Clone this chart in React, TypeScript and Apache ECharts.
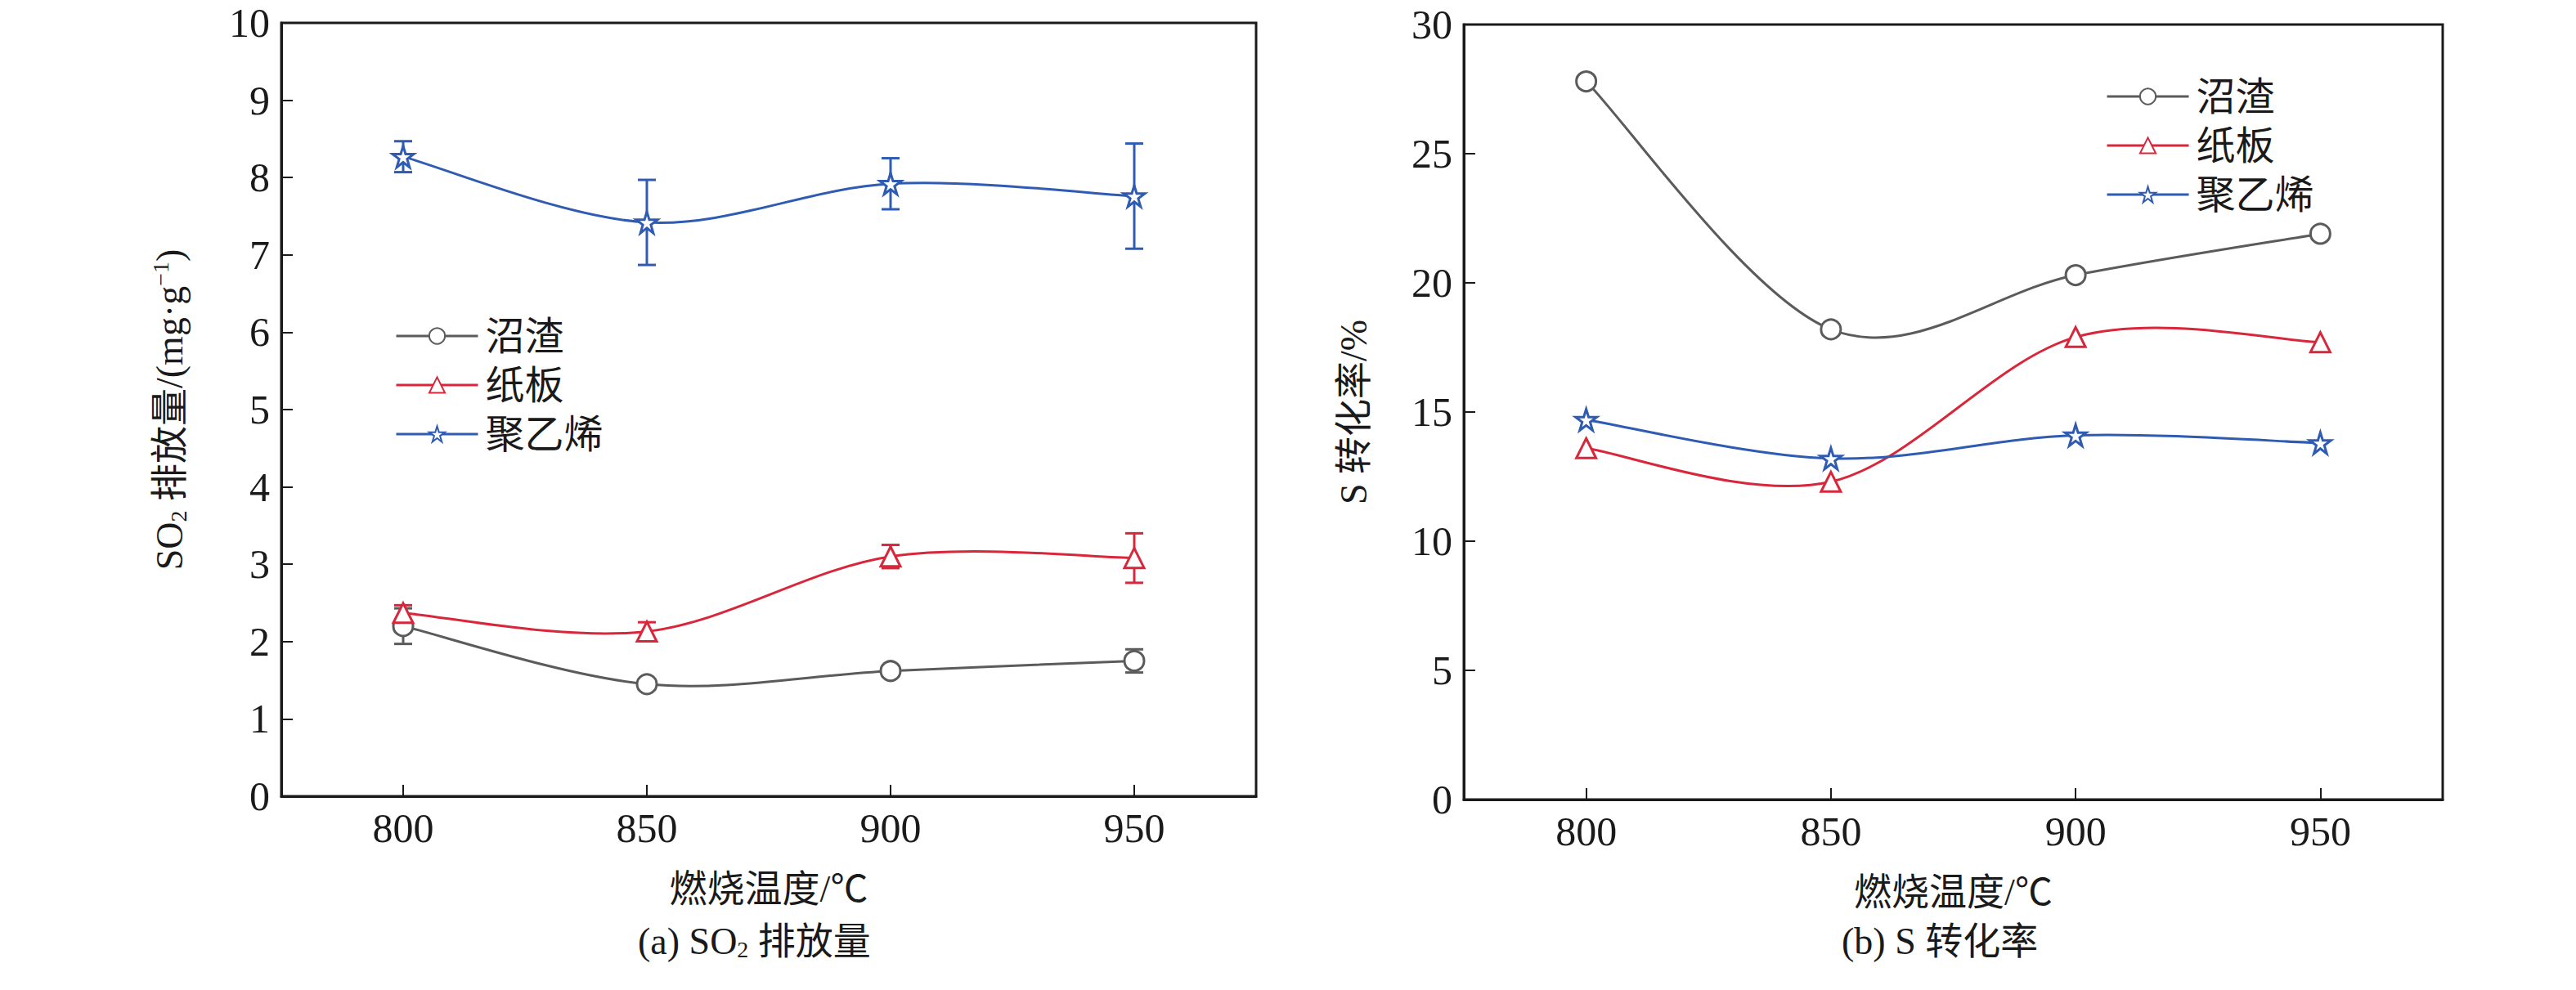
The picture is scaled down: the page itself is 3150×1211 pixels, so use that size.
import React, { useEffect, useRef } from 'react';
import * as echarts from 'echarts';

const temps = [800, 850, 900, 950];
const seriesNames = ['沼渣', '纸板', '聚乙烯'];
const colors = ['#5b5b5b', '#d8263b', '#2f5cb2'];

// (a) SO2 排放量
const so2Biogas = [2.2, 1.45, 1.62, 1.75];
const so2BiogasErr = [0.23, 0.05, 0.05, 0.15];
const so2Paper = [2.37, 2.13, 3.1, 3.08];
const so2PaperErr = [0.1, 0.12, 0.15, 0.32];
const so2PE = [8.27, 7.42, 7.92, 7.76];
const so2PEErr = [0.2, 0.55, 0.33, 0.68];

// (b) S 转化率
const convBiogas = [27.8, 18.2, 20.3, 21.9];
const convPaper = [13.6, 12.3, 17.9, 17.7];
const convPE = [14.7, 13.2, 14.1, 13.8];

const STAR = 'path://M50,2 L61,37 L98,37 L68,59 L79,95 L50,73 L21,95 L32,59 L2,37 L39,37Z';
const symbols = ['circle', 'triangle', STAR];

const SERIF = '"Liberation Serif", "Noto Sans CJK SC", serif';
const AXIS = '#1a1a1a';

export default function App() {
  const ref = useRef<HTMLDivElement>(null);

  useEffect(() => {
    if (!ref.current) return;
    const chart = echarts.init(ref.current, undefined, { renderer: 'svg' });

    const xAxisBase = (gridIndex: number) => ({
      type: 'value' as const,
      gridIndex,
      min: 775,
      max: 975,
      axisLine: { lineStyle: { color: AXIS, width: 3 } },
      axisTick: { inside: true, length: 14, customValues: temps, lineStyle: { color: AXIS, width: 2 } },
      axisLabel: { customValues: temps, color: AXIS, fontSize: 50, fontFamily: SERIF, margin: 14 },
      splitLine: { show: false },
      name: '燃烧温度/℃',
      nameLocation: 'middle' as const,
      nameGap: 90,
      nameTextStyle: { color: AXIS, fontSize: 46, fontFamily: SERIF },
    });

    const yAxisBase = (gridIndex: number, max: number, interval: number) => ({
      type: 'value' as const,
      gridIndex,
      min: 0,
      max,
      interval,
      axisLine: { show: true, lineStyle: { color: AXIS, width: 3 } },
      axisTick: { show: true, inside: true, length: 14, lineStyle: { color: AXIS, width: 2 } },
      axisLabel: { color: AXIS, fontSize: 50, fontFamily: SERIF, margin: 14 },
      splitLine: { show: false },
      nameLocation: 'middle' as const,
      nameRotate: 90,
      nameGap: 112,
    });

    // markers only; the curve is drawn by a custom series
    const lineSeries = (name: string, i: number, data: number[], axis: number) => ({
      name,
      type: 'line' as const,
      xAxisIndex: axis,
      yAxisIndex: axis,
      data: temps.map((t, k) => [t, data[k]]),
      symbol: symbols[i],
      symbolSize: i === 2 ? 26 : 24,
      lineStyle: { color: colors[i], width: 0, opacity: 0 },
      itemStyle: { color: '#fff', borderColor: colors[i], borderWidth: 3 },
      z: 4,
    });

    // Catmull-Rom spline through the data points, via the axis scales
    const curveSeries = (i: number, data: number[], axis: number) => ({
      type: 'custom' as const,
      xAxisIndex: axis,
      yAxisIndex: axis,
      z: 3,
      silent: true,
      data: [[temps[0], data[0]]],
      renderItem: (params: any, api: any) => {
        const pts = temps.map((t, k) => api.coord([t, data[k]]));
        const children: any[] = [];
        for (let k = 0; k < pts.length - 1; k++) {
          const p0 = pts[Math.max(k - 1, 0)];
          const p1 = pts[k];
          const p2 = pts[k + 1];
          const p3 = pts[Math.min(k + 2, pts.length - 1)];
          children.push({
            type: 'bezierCurve',
            shape: {
              x1: p1[0], y1: p1[1],
              cpx1: p1[0] + (p2[0] - p0[0]) / 6, cpy1: p1[1] + (p2[1] - p0[1]) / 6,
              cpx2: p2[0] - (p3[0] - p1[0]) / 6, cpy2: p2[1] - (p3[1] - p1[1]) / 6,
              x2: p2[0], y2: p2[1],
            },
            style: { stroke: colors[i], lineWidth: 3, fill: 'none' },
          });
        }
        return { type: 'group', children };
      },
    });

    const errSeries = (i: number, vals: number[], errs: number[]) => ({
      type: 'custom' as const,
      xAxisIndex: 0,
      yAxisIndex: 0,
      z: 2,
      silent: true,
      data: temps.map((t, k) => [t, vals[k] - errs[k], vals[k] + errs[k]]),
      renderItem: (params: any, api: any) => {
        const lo = api.coord([api.value(0), api.value(1)]);
        const hi = api.coord([api.value(0), api.value(2)]);
        const w = 11;
        const style = { stroke: colors[i], lineWidth: 3 };
        return {
          type: 'group',
          children: [
            { type: 'line', shape: { x1: lo[0], y1: lo[1], x2: hi[0], y2: hi[1] }, style },
            { type: 'line', shape: { x1: lo[0] - w, y1: lo[1], x2: lo[0] + w, y2: lo[1] }, style },
            { type: 'line', shape: { x1: hi[0] - w, y1: hi[1], x2: hi[0] + w, y2: hi[1] }, style },
          ],
        };
      },
    });

    const legendBase = {
      orient: 'vertical' as const,
      itemWidth: 100,
      itemHeight: 24,
      itemGap: 12,
      textStyle: { color: AXIS, fontSize: 48, fontFamily: SERIF, padding: [0, 0, 0, 4] },
      data: seriesNames.map((n, i) => ({
        name: n,
        lineStyle: { color: colors[i], width: 3, opacity: 1 },
      })),
    };

    const option: echarts.EChartsOption = {
      animation: false,
      backgroundColor: '#fff',
      grid: [
        { left: 344, top: 28, width: 1192, height: 946, show: true, borderColor: AXIS, borderWidth: 3 },
        { left: 1790, top: 30, width: 1197, height: 948, show: true, borderColor: AXIS, borderWidth: 3 },
      ],
      xAxis: [xAxisBase(0), xAxisBase(1)] as any,
      yAxis: [
        {
          ...yAxisBase(0, 10, 1),
          name: '{n|SO}{sub|2}{n| 排放量/(mg·g}{sup|−1}{n|)}',
          nameTextStyle: {
            rich: {
              n: { fontSize: 46, fontFamily: SERIF, color: AXIS },
              sub: { fontSize: 28, fontFamily: SERIF, color: AXIS, verticalAlign: 'bottom', padding: [22, 0, 0, 0] },
              sup: { fontSize: 28, fontFamily: SERIF, color: AXIS, verticalAlign: 'top', padding: [0, 0, 22, 0] },
            },
          },
        },
        {
          ...yAxisBase(1, 30, 5),
          name: 'S 转化率/%',
          nameTextStyle: { color: AXIS, fontSize: 46, fontFamily: SERIF },
        },
      ] as any,
      legend: [
        { ...legendBase, left: 478, top: 382 },
        { ...legendBase, left: 2570, top: 89 },
      ] as any,
      graphic: [
        {
          type: 'text',
          left: 780,
          top: 1128,
          style: {
            text: '{n|(a) SO}{sub|2}{n| 排放量}',
            rich: {
              n: { fontSize: 46, fontFamily: SERIF, fill: AXIS },
              sub: { fontSize: 28, fontFamily: SERIF, fill: AXIS, verticalAlign: 'bottom', padding: [22, 0, 0, 0] },
            },
          },
        },
        {
          type: 'text',
          left: 2252,
          top: 1128,
          style: { text: '(b) S 转化率', fontSize: 46, fontFamily: SERIF, fill: AXIS },
        },
      ],
      series: [
        errSeries(0, so2Biogas, so2BiogasErr),
        errSeries(1, so2Paper, so2PaperErr),
        errSeries(2, so2PE, so2PEErr),
        curveSeries(0, so2Biogas, 0),
        curveSeries(1, so2Paper, 0),
        curveSeries(2, so2PE, 0),
        curveSeries(0, convBiogas, 1),
        curveSeries(1, convPaper, 1),
        curveSeries(2, convPE, 1),
        lineSeries(seriesNames[0], 0, so2Biogas, 0),
        lineSeries(seriesNames[1], 1, so2Paper, 0),
        lineSeries(seriesNames[2], 2, so2PE, 0),
        lineSeries(seriesNames[0], 0, convBiogas, 1),
        lineSeries(seriesNames[1], 1, convPaper, 1),
        lineSeries(seriesNames[2], 2, convPE, 1),
      ] as any,
    };

    chart.setOption(option);
    return () => chart.dispose();
  }, []);

  return <div ref={ref} style={{ position: 'fixed', left: 0, top: 0, width: 3150, height: 1211 }} />;
}
